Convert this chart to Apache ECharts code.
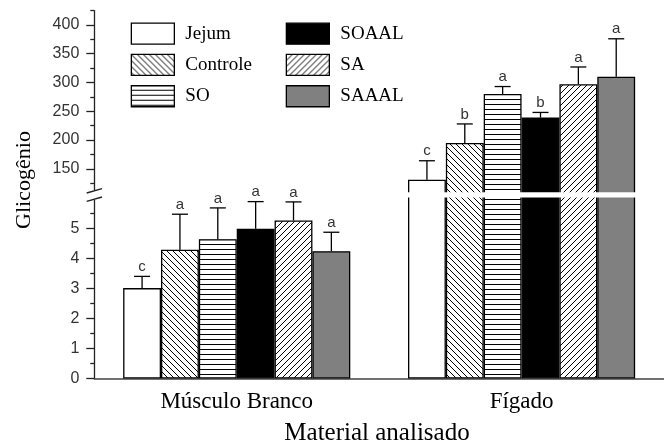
<!DOCTYPE html>
<html>
<head>
<meta charset="utf-8">
<script src="https://cdn.jsdelivr.net/npm/echarts@6/dist/echarts.min.js"></script>
<style>
  html, body { margin: 0; padding: 0; background: #fff; }
  #chart { width: 664px; height: 448px; }
</style>
</head>
<body>
<div id="chart"></div>
<script>
// Glicogênio por tratamento, músculo branco (escala inferior) e fígado (escala superior)
const groups = ['Músculo Branco', 'Fígado'];
const treatments = ['Jejum', 'Controle', 'SO', 'SOAAL', 'SA', 'SAAAL'];

const musculoMean = [3.01, 4.29, 4.64, 4.99, 5.26, 4.24];
const musculoErr = [0.39, 1.18, 1.04, 0.90, 0.62, 0.63];
const musculoLetters = ['c', 'a', 'a', 'a', 'a', 'a'];

const figadoMean = [131, 195, 280, 239, 297, 310];
const figadoErr = [33, 33, 13, 9, 30, 66];
const figadoLetters = ['c', 'b', 'a', 'b', 'a', 'a'];

const lowerTicks = [0, 1, 2, 3, 4, 5];
const lowerMinorTicks = [0.5, 1.5, 2.5, 3.5, 4.5, 5.5];
const upperTicks = [150, 200, 250, 300, 350, 400];
const upperMinorTicks = [125, 175, 225, 275, 325, 375, 425];

const SERIF = '"Liberation Serif", "Times New Roman", serif';
const SANS = '"Liberation Sans", Arial, sans-serif';
const BAR_FRAC = 0.1329;           // bar width as a share of the category band
const GRID_LEFT = 94.3;
const GRID_WIDTH = 574.8;

// fill patterns for the hatched bars
function hatch(kind) {
  const s = kind === 'h' ? 5 : 6;
  const c = document.createElement('canvas');
  c.width = s; c.height = s;
  const g = c.getContext('2d');
  g.fillStyle = '#fff';
  g.fillRect(0, 0, s, s);
  g.strokeStyle = '#000';
  g.lineWidth = 1;
  g.beginPath();
  if (kind === 'h') {
    g.moveTo(0, s - 0.5); g.lineTo(s, s - 0.5);
  } else if (kind === 'back') {
    g.moveTo(-1, -1); g.lineTo(s + 1, s + 1);
    g.moveTo(-1, s - 1); g.lineTo(1, s + 1);
    g.moveTo(s - 1, -1); g.lineTo(s + 1, 1);
  } else {
    g.moveTo(-1, s + 1); g.lineTo(s + 1, -1);
    g.moveTo(-1, 1); g.lineTo(1, -1);
    g.moveTo(s - 1, s + 1); g.lineTo(s + 1, s - 1);
  }
  g.stroke();
  return { image: c, repeat: 'repeat' };
}

const fills = ['#ffffff', hatch('back'), hatch('h'), '#000000', hatch('fwd'), '#808080'];

function barSeries(axisIdx, yIdx, values) {
  return treatments.map((name, i) => ({
    type: 'bar',
    name: name,
    xAxisIndex: axisIdx,
    yAxisIndex: yIdx,
    data: values.map(v => v[i]),
    barWidth: (BAR_FRAC * 100) + '%',
    barGap: '0%',
    clip: true,
    silent: true,
    itemStyle: { color: fills[i], borderColor: '#000', borderWidth: 1.3 }
  }));
}

function errorSeries(axisIdx, yIdx, catIdx, means, errs, letters) {
  return {
    type: 'custom',
    xAxisIndex: axisIdx,
    yAxisIndex: yIdx,
    silent: true,
    z: 5,
    data: means.map((m, i) => [catIdx, i, m, errs[i]]),
    encode: { x: 0, y: 2 },
    renderItem: function (params, api) {
      const cat = api.value(0), i = api.value(1), m = api.value(2), e = api.value(3);
      const band = api.size([1, 0])[0];
      const bw = band * BAR_FRAC;
      const base = api.coord([cat, m]);
      const cx = base[0] + (i - 2.5) * bw;
      const y0 = base[1];
      const y1 = api.coord([cat, m + e])[1];
      const half = 8;
      return {
        type: 'group',
        children: [
          { type: 'line', shape: { x1: cx, y1: y0, x2: cx, y2: y1 }, style: { stroke: '#000', lineWidth: 1.3 } },
          { type: 'line', shape: { x1: cx - half, y1: y1, x2: cx + half, y2: y1 }, style: { stroke: '#000', lineWidth: 1.3 } },
          { type: 'text', x: cx, y: y1 - 2,
            style: { text: letters[params.dataIndex], fill: '#333', font: '15px ' + SANS,
                     textAlign: 'center', textVerticalAlign: 'bottom' } }
        ]
      };
    }
  };
}

const axisLineStyle = { color: '#222', width: 1.3 };
const tickLabel = { fontFamily: SANS, fontSize: 16, color: '#333', margin: 15 };

function yAxes(grid, min, max, major, minor) {
  return [
    { gridIndex: grid, type: 'value', min: min, max: max, position: 'left',
      axisLine: { show: true, lineStyle: axisLineStyle },
      axisTick: { show: true, length: 8, customValues: major, lineStyle: axisLineStyle },
      axisLabel: Object.assign({ customValues: major }, tickLabel),
      splitLine: { show: false } },
    { gridIndex: grid, type: 'value', min: min, max: max, position: 'left',
      axisLine: { show: false },
      axisTick: { show: true, length: 4, customValues: minor, lineStyle: axisLineStyle },
      axisLabel: { show: false },
      splitLine: { show: false } }
  ];
}

const legendBase = {
  orient: 'vertical', top: 22.5, padding: 0,
  itemWidth: 43, itemHeight: 21, itemGap: 9,
  icon: 'rect', selectedMode: false,
  itemStyle: { borderColor: '#000', borderWidth: 1.3 },
  textStyle: { fontFamily: SERIF, fontSize: 19, color: '#000', padding: [0, 0, 0, 6] }
};

const option = {
  animation: false,
  backgroundColor: '#fff',
  grid: [
    { left: GRID_LEFT, width: GRID_WIDTH, top: 195.3, height: 183.2 },
    { left: GRID_LEFT, width: GRID_WIDTH, top: 10.6, height: 184.1 }
  ],
  xAxis: [
    { gridIndex: 0, type: 'category', data: groups,
      axisLine: { lineStyle: { color: '#444', width: 1.5 } },
      axisTick: { length: 5, lineStyle: { color: '#444' } },
      axisLabel: { margin: 12, fontFamily: SERIF, fontSize: 23, color: '#000' } },
    { gridIndex: 1, type: 'category', data: groups, show: false }
  ],
  yAxis: [].concat(
    yAxes(0, 0, 6.1, lowerTicks, lowerMinorTicks),
    yAxes(1, 105, 425, upperTicks, upperMinorTicks)
  ),
  legend: [
    Object.assign({ left: 130.7, data: treatments.slice(0, 3) }, legendBase),
    Object.assign({ left: 285.7, data: treatments.slice(3) }, legendBase)
  ],
  series: [].concat(
    barSeries(0, 0, [musculoMean, figadoMean]),
    barSeries(1, 2, [musculoMean.map(() => '-'), figadoMean]),
    [errorSeries(0, 0, 0, musculoMean, musculoErr, musculoLetters)],
    [errorSeries(1, 2, 1, figadoMean, figadoErr, figadoLetters)]
  )
};

const chart = echarts.init(document.getElementById('chart'), null, { renderer: 'canvas' });
chart.setOption(option);

// axis break: white band through the liver bars and the two slashes on the y axis
const yTopOfLower = chart.convertToPixel({ yAxisIndex: 0 }, 6.1);
const yBottomOfUpper = chart.convertToPixel({ yAxisIndex: 2 }, 105);
const yBreak = (yTopOfLower + yBottomOfUpper) / 2;
const figX = chart.convertToPixel({ xAxisIndex: 0 }, 'Fígado');
const halfSpan = GRID_WIDTH / 2 * BAR_FRAC * 3 + 2;

chart.setOption({
  graphic: [
    { type: 'rect', z: 100, shape: { x: figX - halfSpan, y: yBreak - 2.8, width: halfSpan * 2, height: 5.2 },
      style: { fill: '#fff' } },
    { type: 'rect', z: 100, shape: { x: GRID_LEFT - 4, y: yBreak - 5, width: 8, height: 10 },
      style: { fill: '#fff' } },
    { type: 'line', z: 101, shape: { x1: GRID_LEFT - 7.6, y1: yBreak - 2, x2: GRID_LEFT + 7.7, y2: yBreak - 6.3 },
      style: { stroke: '#222', lineWidth: 1.3 } },
    { type: 'line', z: 101, shape: { x1: GRID_LEFT - 7.6, y1: yBreak + 6.3, x2: GRID_LEFT + 7.7, y2: yBreak + 2 },
      style: { stroke: '#222', lineWidth: 1.3 } },
    { type: 'text', z: 101, x: 24, y: 180, rotation: Math.PI / 2,
      style: { text: 'Glicogênio', font: '22px ' + SERIF, fill: '#000', textAlign: 'center', textVerticalAlign: 'middle' } },
    { type: 'text', z: 101, x: 377, y: 433,
      style: { text: 'Material analisado', font: '25px ' + SERIF, fill: '#000', textAlign: 'center', textVerticalAlign: 'middle' } }
  ]
});
</script>
</body>
</html>
